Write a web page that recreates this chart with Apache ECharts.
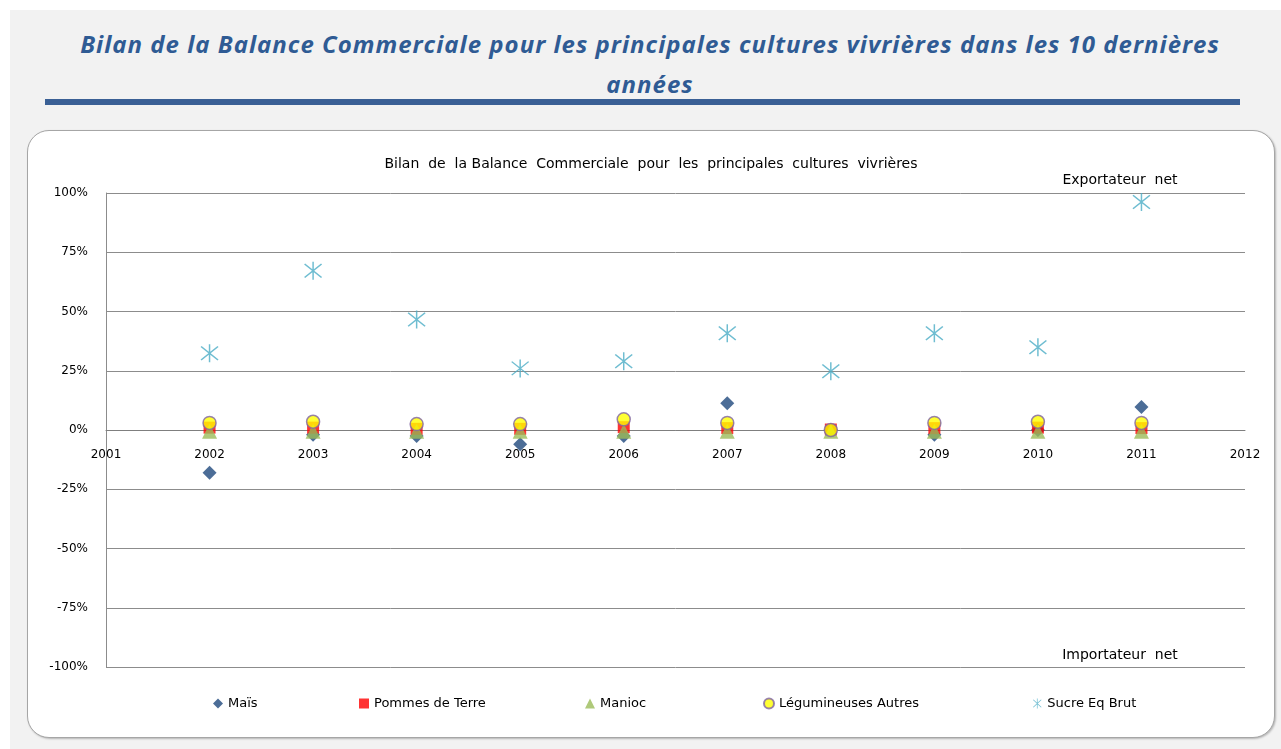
<!DOCTYPE html>
<html>
<head>
<meta charset="utf-8">
<script src="https://cdn.jsdelivr.net/npm/echarts@6/dist/echarts.min.js"></script>
<style>
  body { margin: 0; background: #fff; width: 1281px; height: 749px; overflow: hidden; }
  .page { position: absolute; left: 10px; top: 10px; width: 1271px; height: 739px; background: #f2f2f2; }
  .page-title {
    position: absolute; left: 20px; top: 14px; width: 1240px;
    text-align: center; font-family: "Open Sans", sans-serif; font-style: italic; font-weight: bold;
    font-size: 24px; letter-spacing: 1px; line-height: 40px; color: #2f5b94;
  }
  .page-rule { position: absolute; left: 35px; top: 89px; width: 1195px; height: 6px; background: #3a6095; }
  .chart-box {
    position: absolute; left: 17px; top: 120px; width: 1246px; height: 606px;
    background: #fff; border: 1px solid #a6a6a6; border-radius: 22px;
    box-shadow: 1px 1px 2px rgba(0,0,0,0.25);
  }
  #chart { width: 1246px; height: 606px; }
</style>
</head>
<body>
<div class="page">
  <div class="page-title">Bilan de la Balance Commerciale pour les principales cultures vivrières dans les 10 dernières<br>années</div>
  <div class="page-rule"></div>
  <div class="chart-box"><div id="chart"></div></div>
</div>
<script>
// valeurs (part, 1 = 100%)
const years = [2002, 2003, 2004, 2005, 2006, 2007, 2008, 2009, 2010, 2011];
const mais = [-0.18, -0.02, -0.025, -0.06, -0.025, 0.113, 0, -0.02, 0, 0.097];
const pommes = [0.01, 0.01, 0.005, 0.005, 0.012, 0.008, 0.002, 0.008, 0.01, 0.008];
const manioc = [-0.005, -0.005, -0.005, -0.005, -0.005, -0.005, -0.005, -0.005, -0.005, -0.005];
const legumineuses = [0.03, 0.035, 0.025, 0.025, 0.045, 0.03, 0, 0.03, 0.035, 0.03];
const sucre = [0.324, 0.672, 0.466, 0.26, 0.29, 0.408, 0.248, 0.408, 0.349, 0.962];
const yTicks = [-1, -0.75, -0.5, -0.25, 0, 0.25, 0.5, 0.75, 1];

const starPath = 'path://M9.3 0L10.7 0L10.7 20L9.3 20Z M1.5 3L2.5 2L18.5 17L17.5 18Z M17.5 2L18.5 3L2.5 18L1.5 17Z';
const font = '"DejaVu Sans", sans-serif';

function pts(vals) {
  return vals.map((v, i) => [years[i], v]);
}

const seriesDefs = [
  { name: 'Maïs', data: mais, symbol: 'diamond', size: 14, color: '#1f497d' },
  { name: 'Pommes de Terre', data: pommes, symbol: 'rect', size: 12, color: '#ff0000' },
  { name: 'Manioc', data: manioc, symbol: 'triangle', size: 15, color: '#9bbb59' },
  { name: 'Légumineuses Autres', data: legumineuses, symbol: 'circle', size: 13, color: '#ffff00', border: '#8064a2' },
  { name: 'Sucre Eq Brut', data: sucre, symbol: starPath, size: 18, color: '#4bacc6' }
];
const legendLeft = [180, 326, 552, 730, 1000];

const myChart = echarts.init(document.getElementById('chart'));
const option = {
  animation: false,
  textStyle: { fontFamily: font },
  grid: { left: 78, top: 62, width: 1139, height: 474 },
  legend: seriesDefs.map((s, i) => ({
    data: [s.name],
    left: legendLeft[i],
    top: 561,
    itemWidth: 10,
    itemHeight: 10,
    itemGap: 4,
    textStyle: { fontSize: 13, color: '#000', fontFamily: font },
    selectedMode: false
  })),
  graphic: [
    { type: 'text', left: 'center', top: 26, style: { text: 'Bilan  de  la Balance  Commerciale  pour  les  principales  cultures  vivrières', fontSize: 14, fontFamily: font, fill: '#000' } },
    { type: 'text', x: 1092, y: 42, style: { text: 'Exportateur  net', fontSize: 14, fontFamily: font, fill: '#000', align: 'center' } },
    { type: 'text', x: 1092, y: 517, style: { text: 'Importateur  net', fontSize: 14, fontFamily: font, fill: '#000', align: 'center' } }
  ],
  xAxis: {
    type: 'value',
    min: 2001,
    max: 2012,
    interval: 1,
    offset: -237,
    axisLine: { onZero: false, lineStyle: { color: '#7f7f7f', width: 1 } },
    axisTick: { show: false },
    splitLine: { show: false },
    axisLabel: { margin: 19, fontSize: 12, color: '#000', fontFamily: font, showMinLabel: true, showMaxLabel: true, formatter: v => String(v) }
  },
  yAxis: {
    type: 'value',
    min: yTicks[0],
    max: yTicks[yTicks.length - 1],
    interval: 0.25,
    axisLine: { show: true, lineStyle: { color: '#8c8c8c' } },
    axisTick: { show: false },
    splitLine: { lineStyle: { color: '#8c8c8c' } },
    axisLabel: {
      margin: 18, fontSize: 12, color: '#000', fontFamily: font,
      formatter: v => Math.round(v * 100) + '%'
    }
  },
  series: seriesDefs.map(s => ({
    name: s.name,
    type: 'scatter',
    data: pts(s.data),
    symbol: s.symbol,
    symbolSize: s.size,
    itemStyle: { color: s.color, borderColor: s.border || s.color, borderWidth: s.border ? 1.5 : 0 }
  }))
};
myChart.setOption(option);
</script>
</body>
</html>
